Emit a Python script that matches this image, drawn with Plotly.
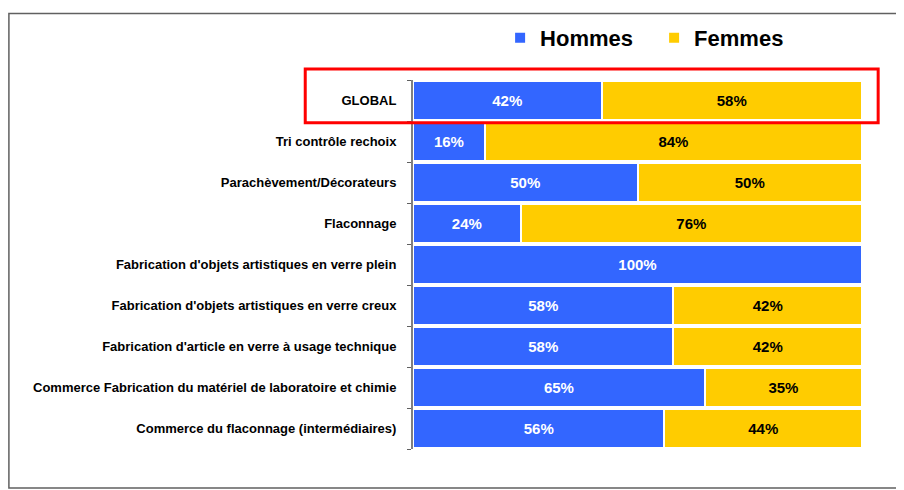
import plotly.graph_objects as go

categories = [
    "GLOBAL",
    "Tri contrôle rechoix",
    "Parachèvement/Décorateurs",
    "Flaconnage",
    "Fabrication d'objets artistiques en verre plein",
    "Fabrication d'objets artistiques en verre creux",
    "Fabrication d'article en verre à usage technique",
    "Commerce Fabrication du matériel de laboratoire et chimie",
    "Commerce du flaconnage (intermédiaires)",
]
hommes = [42, 16, 50, 24, 100, 58, 58, 65, 56]
femmes = [58, 84, 50, 76, 0, 42, 42, 35, 44]

blue = "#3366FF"
gold = "#FFCC00"

fig = go.Figure()
fig.add_trace(go.Bar(
    y=categories, x=hommes, name="<b>Hommes</b>", orientation="h",
    marker=dict(color=blue, line=dict(color="white", width=2)),
    text=[f"<b>{v}%</b>" if v > 0 else "" for v in hommes],
    textposition="inside", insidetextanchor="middle",
    textfont=dict(color="white", size=15),
))
fig.add_trace(go.Bar(
    y=categories, x=femmes, name="<b>Femmes</b>", orientation="h",
    marker=dict(color=gold, line=dict(color="white", width=2)),
    text=[f"<b>{v}%</b>" if v > 0 else "" for v in femmes],
    textposition="inside", insidetextanchor="middle",
    textfont=dict(color="black", size=15),
))

# outer frame of the chart (open on the right, cut by the page edge)
fig.add_shape(type="path", xref="paper", yref="paper",
              path="M 1.3,1.18 L -0.9,1.18 L -0.9,-0.106 L 1.3,-0.106",
              line=dict(color="#606060", width=1.5), layer="below")
# red highlight around GLOBAL row
fig.add_shape(type="rect", xref="paper", yref="paper",
              x0=-0.24, x1=1.036, y0=0.884, y1=1.03,
              line=dict(color="#FF0000", width=3))

fig.update_layout(
    width=904, height=490,
    barmode="stack", bargap=0.06,
    plot_bgcolor="white", paper_bgcolor="white",
    margin=dict(l=405, r=50, t=72, b=49, autoexpand=False),
    font=dict(family="Liberation Sans", color="black"),
    xaxis=dict(range=[0, 100], visible=False, fixedrange=True),
    yaxis=dict(
        range=[len(categories) - 0.5, -0.5], showline=True,
        linecolor="#808080", linewidth=2,
        ticks="outside", ticklen=4, tickcolor="#606060", tickson="boundaries",
        tickfont=dict(size=13, color="black"), ticklabelstandoff=12,
        showgrid=False, automargin=False,
        tickvals=categories, ticktext=[f"<b>{c}</b>" for c in categories],
    ),
    legend=dict(
        orientation="h", traceorder="normal",
        x=0.194, xanchor="left", y=1.114, yanchor="middle",
        font=dict(size=22, color="black"), itemwidth=30,
        entrywidth=109, entrywidthmode="pixels",
        bgcolor="rgba(0,0,0,0)",
    ),
    uniformtext=dict(minsize=15, mode="show"),
)

fig.write_html("out.html")
